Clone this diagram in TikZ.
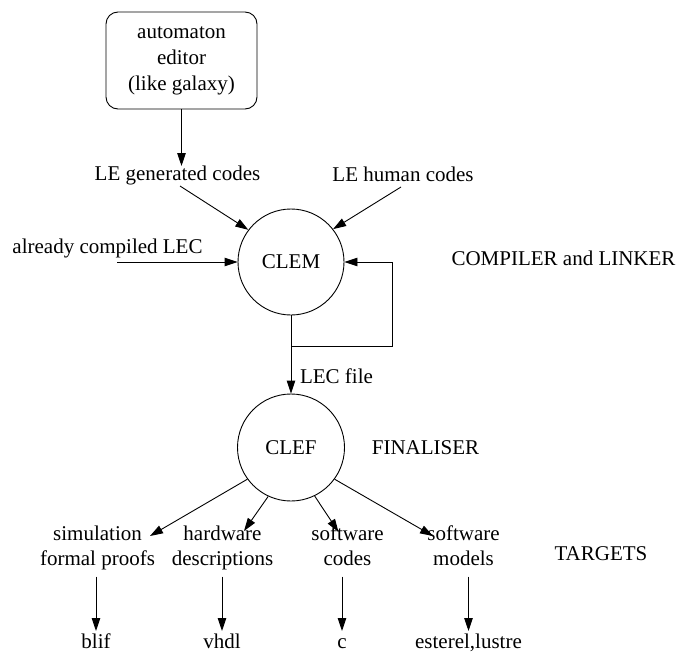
\documentclass[tikz,border=0pt]{standalone}
\usepackage{fontspec}
\setmainfont{Liberation Serif}
\usetikzlibrary{arrows.meta}
\tikzset{
  lbl/.style={inner sep=0pt, text height=14.5pt, text depth=4.6pt, align=center},
  circ/.style={draw, circle, inner sep=0pt, minimum size=106pt},
  arr/.style={-{Triangle[length=13pt,width=8.5pt]}},
}
\begin{document}
\begin{tikzpicture}[x=1pt,y=-1pt, line width=0.9pt,
  every node/.style={font=\fontsize{21}{25}\selectfont}]
\useasboundingbox (0,0) rectangle (678,656);
% nodes
\node[draw, rounded corners=12pt, minimum width=151pt, minimum height=97pt, align=center, inner sep=0pt,
  font=\fontsize{21}{26}\selectfont]
  (editor) at (181.5,60.5) {automaton\\editor\\(like galaxy)};
\node[lbl] (legen) at (177.5,176) {LE generated codes};
\node[lbl] (lehum) at (403,177) {LE human codes};
\node[lbl] (already) at (107.5,249) {already compiled LEC};
\node[circ] (clem) at (291,262) {CLEM};
\node[lbl] (compiler) at (563.5,261) {COMPILER and LINKER};
\node[lbl] (lecfile) at (336.5,379) {LEC file};
\node[circ, minimum size=107pt] (clef) at (291,447.5) {CLEF};
\node[lbl] (finaliser) at (425.5,450) {FINALISER};
\node[lbl] (sim) at (97.5,560.5) {simulation\\formal proofs};
\node[lbl] (hw) at (222.5,560.5) {hardware\\descriptions};
\node[lbl] (sw) at (347.5,560.5) {software\\codes};
\node[lbl] (swm) at (463.5,560.5) {software\\models};
\node[lbl] (targets) at (601,556) {TARGETS};
\node[lbl] (blif) at (96,644) {blif};
\node[lbl] (vhdl) at (222,644) {vhdl};
\node[lbl] (c) at (342,644) {c};
\node[lbl] (est) at (468.5,644) {esterel,lustre};
% coordinates
\coordinate (ac) at (117,262);
\coordinate (j) at (291,346);
\coordinate (fb) at (392,346);
\coordinate (t1) at (150,536);
\coordinate (t2) at (244,531);
\coordinate (t3) at (338.5,532);
\coordinate (t4) at (433,536);
% connectors
\draw[arr] (editor.south) -- (editor.south |- legen.north);
\draw[arr] ([xshift=2.5pt]legen.south) -- (clem.143);
\draw[arr] ([xshift=-2pt]lehum.south) -- (clem.38);
\draw[arr] (ac) -- (clem.west);
\draw (clem.south) -- (j);
\draw[arr] (j) -- (fb) |- (clem.east);
\draw[arr] (j) -- (clef.north);
\draw[arr] (clef.216) -- (t1);
\draw[arr] (clef.245) -- (t2);
\draw[arr] (clef.296) -- (t3);
\draw[arr] (clef.324) -- (t4);
\draw[arr] ([yshift=-6pt]sim.south -| blif) -- ([yshift=3pt]blif.north);
\draw[arr] ([yshift=-6pt]hw.south -| vhdl) -- ([yshift=3pt]vhdl.north);
\draw[arr] ([yshift=-6pt]sw.south -| c) -- ([yshift=3pt]c.north);
\draw[arr] ([yshift=-6pt]swm.south -| est) -- ([yshift=3pt]est.north);
\end{tikzpicture}
\end{document}
